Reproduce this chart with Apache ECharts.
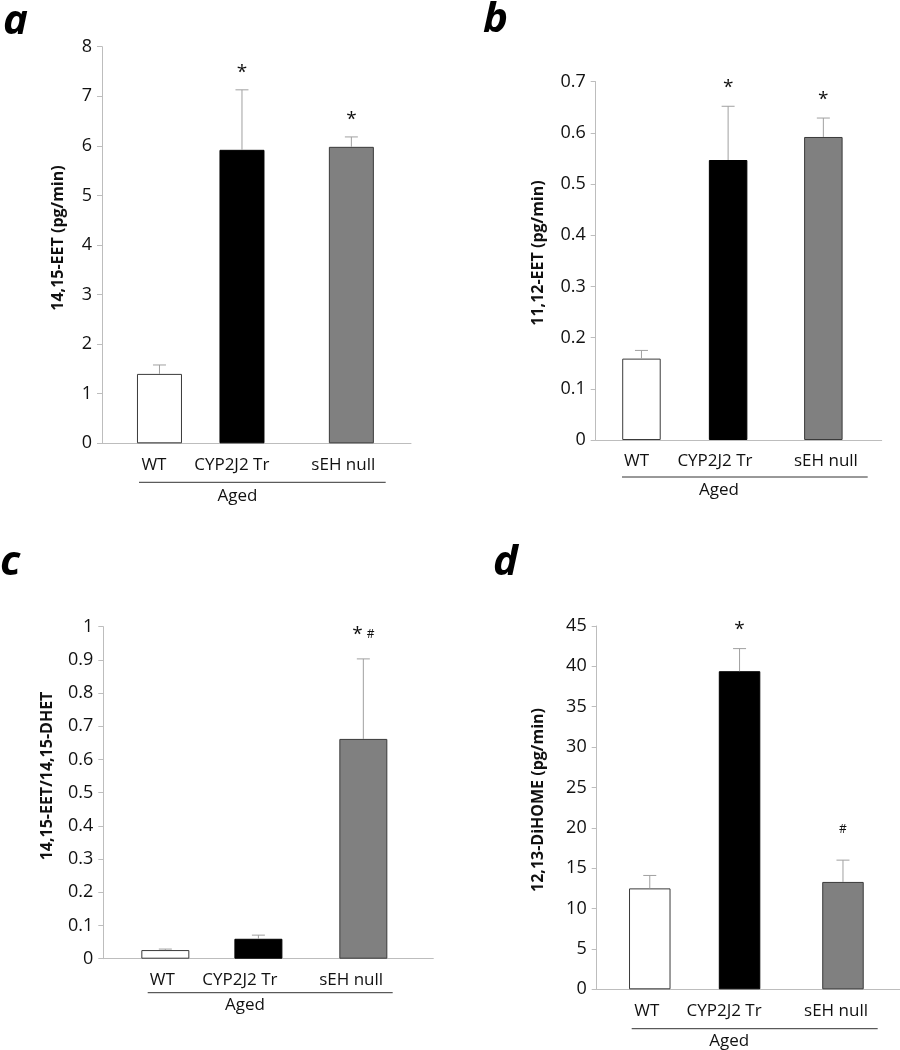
<!DOCTYPE html>
<html>
<head>
<meta charset="utf-8">
<script src="https://cdn.jsdelivr.net/npm/echarts@6/dist/echarts.min.js"></script>
<style>
html,body{margin:0;padding:0;background:#fff;}
#chart{width:900px;height:1050px;}
</style>
</head>
<body>
<div id="chart"></div>
<script>
// ---------- DATA ----------
const categories = ['WT', 'CYP2J2 Tr', 'sEH null'];
const groupLabel = 'Aged';
const panelLetters = ['a', 'b', 'c', 'd'];
const yTitles = ['14,15-EET (pg/min)', '11,12-EET (pg/min)', '14,15-EET/14,15-DHET', '12,13-DiHOME (pg/min)'];

const meanA = [1.40, 5.92, 5.98];
const semA  = [0.18, 1.21, 0.20];
const marksA = ['', '*', '*'];

const meanB = [0.159, 0.547, 0.592];
const semB  = [0.016, 0.105, 0.037];
const marksB = ['', '*', '*'];

const meanC = [0.026, 0.060, 0.662];
const semC  = [0.003, 0.011, 0.241];
const marksC = ['', '', '* #'];

const meanD = [12.5, 39.4, 13.3];
const semD  = [1.6, 2.8, 2.7];
const marksD = ['', '*', '#'];

const yMaxes = [8, 0.7, 1, 45];
const yIntervals = [1, 0.1, 0.1, 5];

// ---------- STYLE / LAYOUT ----------
const FONT = '"Open Sans", Lato, sans-serif';
const barFill = ['#ffffff', '#000000', '#808080'];
const barBorder = ['#3a3a3a', '#000000', '#3a3a3a'];
const axisGray = '#bdbdbd';
const errGray = '#a0a0a0';

const panels = [
  { mean: meanA, sem: semA, marks: marksA, markGap: [0, 21, 21],
    grid: {left: 102, top: 46.7, width: 309, height: 396.6},
    slots: [0.186, 0.453, 0.807], labelSlots: [0.168, 0.420, 0.781], barW: 45,
    underline: [139, 385.7, 482.3], aged: [237.5, 496], title: [58, 238], letter: [3, 22] },
  { mean: meanB, sem: semB, marks: marksB, markGap: [0, 23, 22],
    grid: {left: 595.7, top: 81.7, width: 286, height: 358.3},
    slots: [0.160, 0.463, 0.796], labelSlots: [0.143, 0.417, 0.805], barW: 38.5,
    underline: [622, 867.7, 477], aged: [719, 490], title: [538, 253], letter: [483, 20] },
  { mean: meanC, sem: semC, marks: marksC, markGap: [0, 0, 28],
    grid: {left: 103.3, top: 626.7, width: 330, height: 332},
    slots: [0.188, 0.470, 0.788], labelSlots: [0.179, 0.414, 0.751], barW: 48,
    underline: [147.7, 392.7, 992.7], aged: [245, 1005], title: [47, 776], letter: [0, 563] },
  { mean: meanD, sem: semD, marks: marksD, markGap: [0, 23, 31],
    grid: {left: 596.7, top: 626, width: 303.3, height: 363.3},
    slots: [0.175, 0.471, 0.812], labelSlots: [0.165, 0.420, 0.789], barW: 41.5,
    underline: [631.7, 877.7, 1028.7], aged: [729.3, 1041], title: [538, 800], letter: [493, 563] }
];

const grids = [], xAxes = [], yAxes = [], series = [], graphics = [];

panels.forEach((p, i) => {
  grids.push(Object.assign({containLabel: false}, p.grid));
  const labelSlots = p.labelSlots;
  xAxes.push({
    type: 'value', gridIndex: i, min: 0, max: 1,
    splitLine: {show: false},
    axisLine: {show: true, lineStyle: {color: axisGray, width: 1}},
    axisTick: {show: false},
    axisLabel: {
      show: true, customValues: labelSlots, margin: 13,
      fontFamily: FONT, fontSize: 17, color: '#111',
      formatter: function (v) {
        let best = 0, d = 1e9;
        labelSlots.forEach((s, k) => { if (Math.abs(s - v) < d) { d = Math.abs(s - v); best = k; } });
        return categories[best];
      }
    }
  });
  yAxes.push({
    type: 'value', gridIndex: i, min: 0, max: yMaxes[i], interval: yIntervals[i],
    splitLine: {show: false},
    axisLine: {show: true, lineStyle: {color: axisGray, width: 1}},
    axisTick: {show: true, inside: false, length: 5, lineStyle: {color: axisGray}},
    axisLabel: {fontFamily: FONT, fontSize: 18, color: '#111', margin: 10}
  });
  series.push({
    type: 'bar', xAxisIndex: i, yAxisIndex: i, barWidth: p.barW,
    silent: true, animation: false,
    data: p.mean.map((m, k) => ({
      value: [p.slots[k], m],
      itemStyle: {color: barFill[k], borderColor: barBorder[k], borderWidth: 1}
    }))
  });
  const marks = p.marks, markGap = p.markGap;
  series.push({
    type: 'custom', xAxisIndex: i, yAxisIndex: i, silent: true, animation: false, z: 5,
    data: p.mean.map((m, k) => [p.slots[k], m, m + p.sem[k]]),
    renderItem: function (params, api) {
      const x = api.value(0);
      const p0 = api.coord([x, api.value(1)]);
      const p1 = api.coord([x, api.value(2)]);
      const cap = 6.5;
      const children = [
        {type: 'line', shape: {x1: p0[0], y1: p0[1], x2: p1[0], y2: p1[1]},
         style: {stroke: errGray, lineWidth: 1}},
        {type: 'line', shape: {x1: p1[0] - cap, y1: p1[1], x2: p1[0] + cap, y2: p1[1]},
         style: {stroke: errGray, lineWidth: 1}}
      ];
      const mk = marks[params.dataIndex];
      if (mk) {
        const hasStar = mk.indexOf('*') >= 0;
        const txt = mk.replace('*', '{s|*}').replace('#', '{h|#}');
        children.push({type: 'text', x: p1[0], y: p1[1] - markGap[params.dataIndex] + (hasStar ? 4 : 0),
          style: {text: txt, align: 'center', verticalAlign: 'middle', fill: '#111',
            rich: {
              s: {fontFamily: FONT, fontSize: 19, fill: '#111'},
              h: {fontFamily: FONT, fontSize: 12, fill: '#111'}
            },
            font: '16px ' + FONT}});
      }
      return {type: 'group', children: children};
    }
  });
  // decorations
  graphics.push({type: 'text', x: p.letter[0], y: p.letter[1],
    style: {text: panelLetters[i], font: 'italic bold 42px ' + FONT, fill: '#000', align: 'left', verticalAlign: 'middle'}});
  graphics.push({type: 'text', x: p.title[0], y: p.title[1], rotation: Math.PI / 2,
    style: {text: yTitles[i], font: 'bold 16px ' + FONT, fill: '#111', align: 'center', verticalAlign: 'middle'}});
  graphics.push({type: 'line', shape: {x1: p.underline[0], y1: p.underline[2], x2: p.underline[1], y2: p.underline[2]},
    style: {stroke: '#333', lineWidth: 1}});
  graphics.push({type: 'text', x: p.aged[0], y: p.aged[1],
    style: {text: groupLabel, font: '17px ' + FONT, fill: '#111', align: 'center', verticalAlign: 'middle'}});
});

const chart = echarts.init(document.getElementById('chart'), null, {renderer: 'canvas'});
chart.setOption({
  animation: false,
  backgroundColor: '#ffffff',
  grid: grids, xAxis: xAxes, yAxis: yAxes, series: series,
  graphic: {elements: graphics}
});
</script>
</body>
</html>
